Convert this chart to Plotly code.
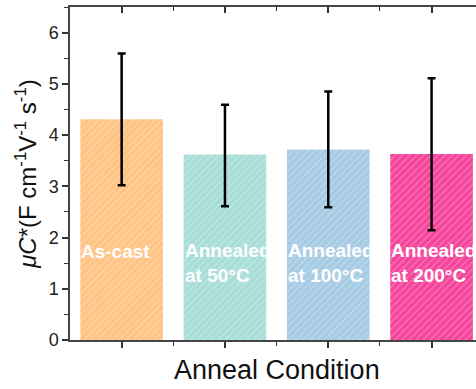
import plotly.graph_objects as go

categories = ["As-cast", "Annealed at 50°C", "Annealed at 100°C", "Annealed at 200°C"]
labels = ["As-cast", "Annealed<br>at 50°C", "Annealed<br>at 100°C", "Annealed<br>at 200°C"]
values = [4.31, 3.62, 3.72, 3.63]
err_plus = [1.28, 0.97, 1.13, 1.48]
err_minus = [1.29, 1.01, 1.13, 1.49]
colors = ["#FFC384", "#A8DED7", "#A6CBE4", "#F5449B"]
label_y = [1.73, 1.50, 1.50, 1.50]

xs = list(range(len(categories)))

fig = go.Figure()
for i in xs:
    fig.add_trace(go.Bar(
        x=[xs[i]], y=[values[i]], width=0.8,
        marker=dict(color=colors[i], line=dict(width=0),
                    pattern=dict(shape="/", bgcolor=colors[i], fgcolor="white", fgopacity=0.35,
                                 size=5, solidity=0.2, fillmode="replace")),
        error_y=dict(type="data", symmetric=False, array=[err_plus[i]], arrayminus=[err_minus[i]],
                     color="black", thickness=2.5, width=4),
        showlegend=False,
    ))
# invisible trace for top axis
fig.add_trace(go.Scatter(x=xs, y=values, xaxis="x2", mode="markers",
                         marker=dict(opacity=0), showlegend=False, hoverinfo="skip"))

for i, (lab, ly) in enumerate(zip(labels, label_y)):
    fig.add_annotation(x=i - 0.41, y=ly, xref="x", yref="y", text="<b>" + lab + "</b>",
                       showarrow=False, xanchor="left", yanchor="middle", align="left",
                       font=dict(family="Liberation Sans, Arial", size=19, color="white"))

fig.add_annotation(x=1.5, y=-0.04, xref="x", yref="paper", text="Anneal Condition",
                   showarrow=False, xanchor="center", yanchor="top",
                   font=dict(family="Liberation Sans, Arial", size=27, color="#111"))

fig.update_layout(
    width=476, height=389,
    margin=dict(l=70, r=0, t=7, b=49),
    barmode="overlay",
    plot_bgcolor="white", paper_bgcolor="white",
    font=dict(family="Liberation Sans, Arial", color="#222"),
    xaxis=dict(range=[-0.5, 3.43], tickvals=xs, ticktext=["", "", "", ""], automargin=False,
               ticks="outside", ticklen=6, tickwidth=1.5, tickcolor="#333",
               minor=dict(tickvals=[0.5, 1.5, 2.5], ticks="outside", ticklen=4, tickwidth=1.2, tickcolor="#333"),
               showline=True, linecolor="#444", linewidth=1.5, showgrid=False, zeroline=False),
    xaxis2=dict(range=[-0.5, 3.43], overlaying="x", side="top", tickvals=xs, ticktext=["", "", "", ""],
                automargin=False,
                ticks="inside", ticklen=6, tickwidth=1.5, tickcolor="#333",
                minor=dict(tickvals=[0.5, 1.5, 2.5], ticks="inside", ticklen=4, tickwidth=1.2, tickcolor="#333"),
                showline=True, linecolor="#444", linewidth=1.5, showgrid=False, zeroline=False),
    yaxis=dict(range=[0, 6.5], tickvals=[0, 1, 2, 3, 4, 5, 6], ticks="outside", ticklen=6,
               tickwidth=1.5, tickcolor="#333", automargin=False,
               minor=dict(dtick=0.5, ticks="outside", ticklen=4, tickwidth=1.2, tickcolor="#333"),
               showline=True, linecolor="#444", linewidth=1.5, showgrid=False, zeroline=False,
               tickfont=dict(size=18, color="#222"),
               title=dict(text="<i>μC</i>*(F cm<sup>-1</sup>V<sup>-1</sup> s<sup>-1</sup>)",
                          font=dict(size=24, color="#111"), standoff=5)),
)

fig.write_html("out.html", config={"displayModeBar": False},
               post_script="document.body.style.margin='0';document.body.style.overflow='hidden';")
